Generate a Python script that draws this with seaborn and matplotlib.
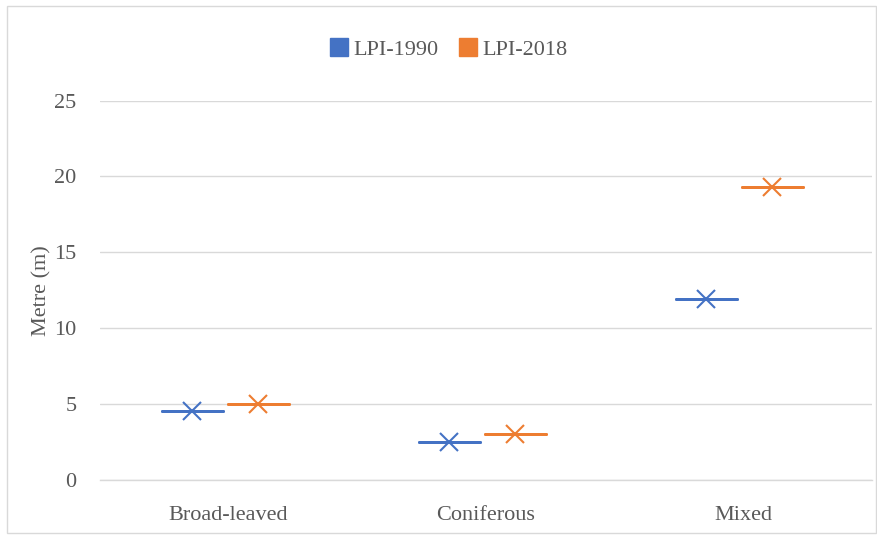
import matplotlib
matplotlib.use("Agg")
import matplotlib.pyplot as plt
from matplotlib.lines import Line2D
from matplotlib.patches import Rectangle
from matplotlib.transforms import ScaledTranslation
import pandas as pd
import seaborn as sns

# Mean LPI values per forest type
forest_types = ["Broad-leaved", "Coniferous", "Mixed"]
lpi_1990 = [4.55, 2.5, 11.9]
lpi_2018 = [5.0, 3.0, 19.3]
series_names = ["LPI-1990", "LPI-2018"]
series_colors = ["#4472C4", "#ED7D31"]
y_ticks = [0, 5, 10, 15, 20, 25]

df = pd.DataFrame({
    "Forest": forest_types * 2,
    "Series": [series_names[0]] * 3 + [series_names[1]] * 3,
    "Value": lpi_1990 + lpi_2018,
})

sns.set_style("white")
plt.rcParams["font.family"] = ["Liberation Serif", "DejaVu Serif"]

fig = plt.figure(figsize=(8.78, 5.36), dpi=100)
ax = fig.add_axes([0.1139, 0.1045, 0.8787, 0.708])

palette = dict(zip(series_names, series_colors))
sns.boxplot(
    data=df, x="Forest", y="Value", hue="Series", palette=palette,
    order=forest_types, hue_order=series_names,
    fill=False, width=0.513, gap=0.076, linewidth=2.0,
    showmeans=True,
    meanprops=dict(marker="x", markersize=13, markeredgewidth=1.5),
    legend=False, ax=ax,
)

# colour each mean marker like its series, and nudge the marks slightly left
value_to_color = {v: palette[s] for v, s in zip(df["Value"], df["Series"])}
shift = ScaledTranslation(-3.5 / 100, 0, fig.dpi_scale_trans)
for line in ax.lines:
    if line.get_marker() == "x":
        y = float(line.get_ydata()[0])
        col = min(value_to_color.items(), key=lambda kv: abs(kv[0] - y))[1]
        line.set_markeredgecolor(col)
        line.set_markerfacecolor(col)
    line.set_transform(line.get_transform() + shift)
for patch in ax.patches:
    patch.set_transform(patch.get_transform() + shift)

ax.set_ylim(0, 25)
ax.set_xlim(-0.5, 2.5)
ax.set_yticks(y_ticks)
ax.yaxis.grid(True, color="#D9D9D9", linewidth=1.0)
ax.set_axisbelow(True)
for side in ["top", "right", "left"]:
    ax.spines[side].set_visible(False)
ax.spines["bottom"].set_color("#D9D9D9")
ax.spines["bottom"].set_linewidth(1.0)

ax.tick_params(axis="both", length=0, labelsize=16, labelcolor="#595959")
ax.tick_params(axis="y", pad=17)
ax.tick_params(axis="x", pad=19)
ax.set_xlabel("")
ax.set_ylabel("Metre (m)", fontsize=16, color="#595959", labelpad=2)

handles = [
    Line2D([], [], linestyle="none", marker="s", markersize=13,
           markerfacecolor=c, markeredgecolor=c, label=n)
    for n, c in zip(series_names, series_colors)
]
fig.legend(handles=handles, loc="center", bbox_to_anchor=(0.51, 0.908),
           ncol=2, frameon=False, fontsize=16, handletextpad=0.15,
           columnspacing=0.8, handlelength=1.0, labelcolor="#595959")

fig.patches.append(Rectangle((0.008, 0.006), 0.99, 0.982,
                             transform=fig.transFigure, fill=False,
                             edgecolor="#D9D9D9", linewidth=1.0))

fig.savefig("out.png", dpi=100, facecolor="white")
